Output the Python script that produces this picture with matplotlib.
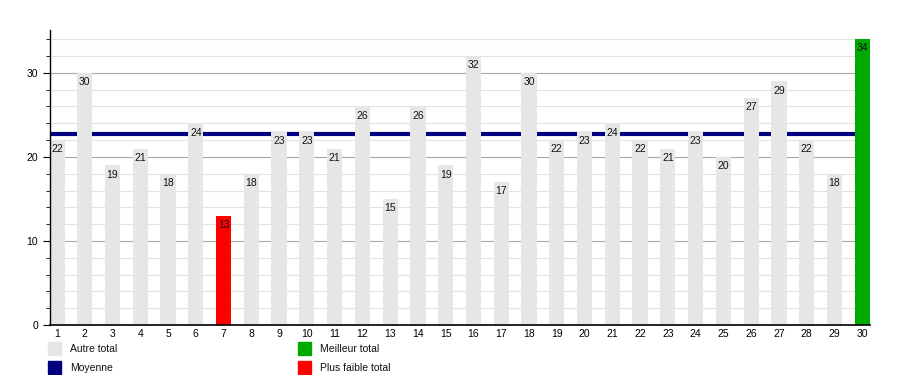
import numpy as np
import matplotlib
matplotlib.use("Agg")
from matplotlib import pyplot as plt
from matplotlib.patches import Rectangle

plt.rcParams['font.family'] = ['Liberation Sans', 'DejaVu Sans']

# data
days = list(range(1, 31))
totals = [22, 30, 19, 21, 18, 24, 13, 18, 23, 23, 21, 26, 15, 26, 19,
          32, 17, 30, 22, 23, 24, 22, 21, 23, 20, 27, 29, 22, 18, 34]
legend_labels = ["Autre total", "Moyenne", "Meilleur total", "Plus faible total"]

c_other = "#e6e6e6"
c_mean = "#000080"
c_best = "#00aa00"
c_worst = "#ff0000"

mean = np.mean(totals)
best = max(totals)
worst = min(totals)
colors = [c_best if v == best else c_worst if v == worst else c_other for v in totals]

fig = plt.figure(figsize=(9, 3.75), dpi=100)
ax = fig.add_axes([50/900, 1 - 325/375, 820/900, 295/375])

# grid
for y in np.arange(2, 35, 2):
    ax.axhline(y, color="#e2e2e2", lw=0.8, zorder=0)
for y in [10, 20, 30]:
    ax.axhline(y, color="#aaaaaa", lw=0.8, zorder=0)

ax.axhline(mean, color=c_mean, lw=3, zorder=1)

ax.bar(days, totals, width=0.55, color=colors, zorder=2)
for d, v in zip(days, totals):
    ax.text(d, v - 1.1, str(v), ha="center", va="center", fontsize=7.5,
            color="#111111", zorder=3)

ax.set_xlim(0.75, 30.28)
ax.set_ylim(0, 35.1)
ax.set_xticks(days)
ax.tick_params(axis="x", length=0, labelsize=7.5, pad=3)
ax.set_yticks([0, 10, 20, 30])
ax.set_yticks(np.arange(2, 35, 2), minor=True)
ax.tick_params(axis="y", which="major", length=5, labelsize=7.5, direction="out")
ax.tick_params(axis="y", which="minor", length=3)
for s in ["top", "right"]:
    ax.spines[s].set_visible(False)
ax.spines["left"].set_linewidth(1)
ax.spines["bottom"].set_linewidth(1.2)

# legend below the chart
leg = [(48, 342, c_other, legend_labels[0]),
       (48, 361, c_mean, legend_labels[1]),
       (298, 342, c_best, legend_labels[2]),
       (298, 361, c_worst, legend_labels[3])]
for x, y, c, lab in leg:
    fig.patches.append(Rectangle((x/900, 1 - (y + 13)/375), 13/900, 13/375,
                                 transform=fig.transFigure, color=c))
    fig.text((x + 22)/900, 1 - (y + 7)/375, lab, fontsize=7.5, va="center",
             color="#111111")

fig.savefig("out.png")
